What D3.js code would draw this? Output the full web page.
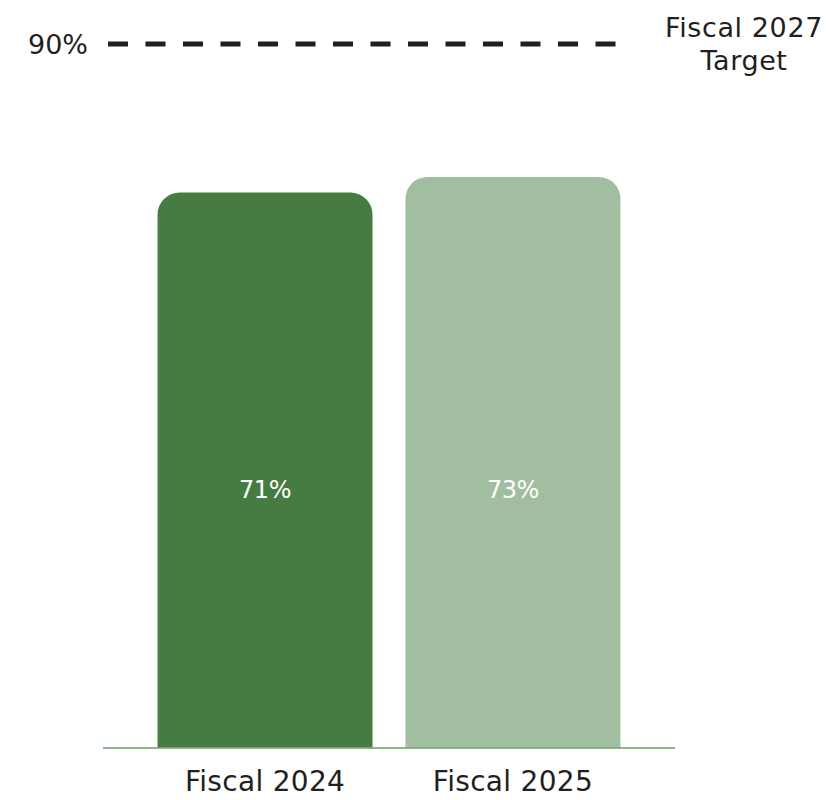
<!DOCTYPE html>
<html>
<head>
<meta charset="utf-8">
<script src="https://cdn.jsdelivr.net/npm/d3@7"></script>
<style>
  html, body { margin: 0; padding: 0; background: #ffffff; }
  svg { display: block; font-family: "DejaVu Sans", "Noto Sans", sans-serif; }
</style>
</head>
<body>
<svg id="chart" width="826" height="800"></svg>
<script>
// Share of measure achieved, by fiscal year
const categories = ["Fiscal 2024", "Fiscal 2025"];
const values = [71, 73];
const valueLabels = ["71%", "73%"];
const barColors = ["#467c42", "#a1bea0"];

// Fiscal 2027 target reference line
const targetValue = 90;
const targetLabel = "90%";
const targetTitle = ["Fiscal 2027", "Target"];

const svg = d3.select("#chart");
const textColor = "#231f20";

const x = d3.scaleBand()
  .domain(categories)
  .range([103, 675])
  .paddingInner(0.133)
  .paddingOuter(0.22);

const y = d3.scaleLinear()
  .domain([0, targetValue])
  .range([747.5, 44]);

// bar with rounded top corners
function topRoundedBar(x0, y0, w, h, r) {
  r = Math.min(r, w / 2, h);
  const p = d3.path();
  p.moveTo(x0, y0 + h);
  p.lineTo(x0, y0 + r);
  p.arcTo(x0, y0, x0 + r, y0, r);
  p.lineTo(x0 + w - r, y0);
  p.arcTo(x0 + w, y0, x0 + w, y0 + r, r);
  p.lineTo(x0 + w, y0 + h);
  p.closePath();
  return p.toString();
}

const data = categories.map((c, i) => ({ cat: c, v: values[i], label: valueLabels[i], color: barColors[i] }));

svg.append("g").selectAll("path")
  .data(data)
  .join("path")
  .attr("d", d => topRoundedBar(x(d.cat), y(d.v), x.bandwidth(), y(0) - y(d.v), 22))
  .attr("fill", d => d.color);

// baseline
svg.append("line")
  .attr("x1", x.range()[0]).attr("x2", x.range()[1])
  .attr("y1", y(0) + 0.5).attr("y2", y(0) + 0.5)
  .attr("stroke", "#6a9c64")
  .attr("stroke-width", 1.5);

// value labels inside bars
svg.append("g").selectAll("text")
  .data(data)
  .join("text")
  .attr("x", d => x(d.cat) + x.bandwidth() / 2)
  .attr("y", 498)
  .attr("text-anchor", "middle")
  .attr("fill", "#ffffff")
  .attr("font-size", 24)
  .attr("letter-spacing", -0.5)
  .text(d => d.label);

// category axis labels
svg.append("g").selectAll("text")
  .data(categories)
  .join("text")
  .attr("x", d => x(d) + x.bandwidth() / 2)
  .attr("y", 791)
  .attr("text-anchor", "middle")
  .attr("fill", textColor)
  .attr("font-size", 28)
  .attr("letter-spacing", 0.3)
  .text(d => d);

// target dashed line
svg.append("line")
  .attr("x1", 108).attr("x2", 616)
  .attr("y1", y(targetValue)).attr("y2", y(targetValue))
  .attr("stroke", textColor)
  .attr("stroke-width", 5)
  .attr("stroke-dasharray", "20,17.5");

svg.append("text")
  .attr("x", 28)
  .attr("y", y(targetValue) + 10)
  .attr("fill", textColor)
  .attr("font-size", 27)
  .text(targetLabel);

svg.append("g").selectAll("text")
  .data(targetTitle)
  .join("text")
  .attr("x", 744)
  .attr("y", (d, i) => 37 + i * 33)
  .attr("text-anchor", "middle")
  .attr("fill", textColor)
  .attr("font-size", 27)
  .attr("letter-spacing", 0.6)
  .text(d => d);
</script>
</body>
</html>
